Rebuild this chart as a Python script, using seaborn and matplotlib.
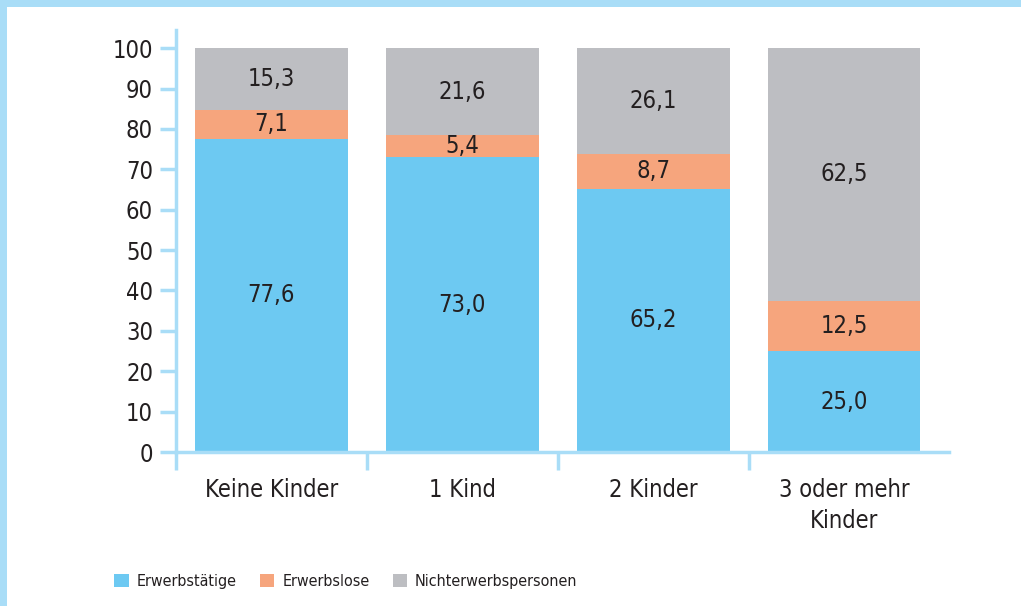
import pandas as pd
import seaborn as sns
import matplotlib.pyplot as plt
from matplotlib.patches import Patch, Rectangle

# Daten
kategorien = ["Keine Kinder", "1 Kind", "2 Kinder", "3 oder mehr\nKinder"]
erwerbstaetige = [77.6, 73.0, 65.2, 25.0]
erwerbslose = [7.1, 5.4, 8.7, 12.5]
nichterwerbspersonen = [15.3, 21.6, 26.1, 62.5]
serien = ["Erwerbstätige", "Erwerbslose", "Nichterwerbspersonen"]
y_ticks = [0, 10, 20, 30, 40, 50, 60, 70, 80, 90, 100]

farben = ["#6DC9F2", "#F6A57D", "#BDBEC2"]
linie = "#A9DDF7"
text_farbe = "#231F20"

sns.set_style("white")
plt.rcParams["font.family"] = ["DejaVu Sans"]
plt.rcParams["font.stretch"] = "condensed"

df = pd.DataFrame({
    "Kategorie": kategorien,
    "Erwerbstätige": erwerbstaetige,
    "Erwerbslose": erwerbslose,
    "Nichterwerbspersonen": nichterwerbspersonen,
})
df["s1"] = df["Erwerbstätige"]
df["s2"] = df["s1"] + df["Erwerbslose"]
df["s3"] = df["s2"] + df["Nichterwerbspersonen"]

fig = plt.figure(figsize=(10.21, 6.06), dpi=100)
ax = fig.add_axes([176 / 1021, (606 - 452) / 606, (949 - 176) / 1021, (452 - 30) / 606])

# gestapelte Balken: von hinten nach vorne zeichnen
for col, c in zip(["s3", "s2", "s1"], farben[::-1]):
    sns.barplot(data=df, x="Kategorie", y=col, color=c, width=0.8,
                saturation=1, linewidth=0, ax=ax)

# Werte in die Segmente schreiben
for i, row in df.iterrows():
    unten = 0
    for s in serien:
        v = row[s]
        ax.text(i, unten + v / 2, f"{v:.1f}".replace(".", ","),
                ha="center", va="center", fontsize=17, color=text_farbe)
        unten += v

ax.set_xlim(-0.5, 3.55)
ax.set_ylim(0, 104.5)
ax.set_yticks(y_ticks)
ax.set_xlabel("")
ax.set_ylabel("")

for sp in ["top", "right"]:
    ax.spines[sp].set_visible(False)
for sp in ["left", "bottom"]:
    ax.spines[sp].set_color(linie)
    ax.spines[sp].set_linewidth(2.5)

ax.tick_params(axis="y", length=11.5, width=2.5, color=linie, pad=5,
               labelsize=17, labelcolor=text_farbe, left=True)
ax.set_xticks([0, 1, 2, 3])
ax.set_xticklabels(kategorien, fontsize=17, color=text_farbe, linespacing=1.35)
ax.tick_params(axis="x", which="major", length=0, pad=19)
ax.set_xticks([-0.5, 0.5, 1.5, 2.5], minor=True)
ax.tick_params(axis="x", which="minor", length=13, width=2.5, color=linie,
               bottom=True)

# Legende
handles = [Patch(facecolor=c, edgecolor="none") for c in farben]
fig.legend(handles, serien, loc="lower left", bbox_to_anchor=(100 / 1021, 0.004),
           ncol=3, frameon=False, fontsize=11.5, handlelength=0.9,
           handleheight=0.9, handletextpad=0.5, columnspacing=1.45,
           labelcolor=text_farbe)

# hellblauer Rahmen oben und links
fig.add_artist(Rectangle((0, 1 - 7 / 606), 1, 7 / 606, transform=fig.transFigure,
                         facecolor=linie, edgecolor="none"))
fig.add_artist(Rectangle((0, 0), 7 / 1021, 1, transform=fig.transFigure,
                         facecolor=linie, edgecolor="none"))

fig.savefig("out.png", dpi=100)
plt.close(fig)
